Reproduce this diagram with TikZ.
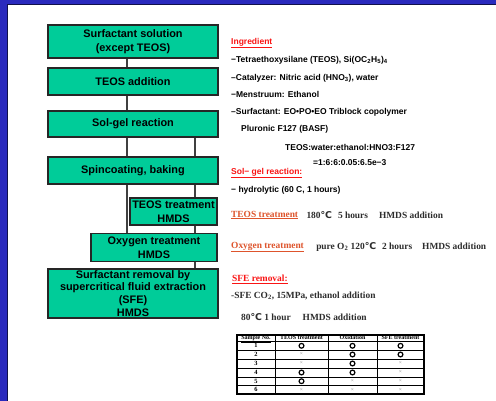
\documentclass[tikz,border=0pt]{standalone}
\usepackage{fontspec}
\setmainfont{Liberation Serif}
\setsansfont{Liberation Sans}
\newfontfamily\symfont{DejaVu Sans}
\usepackage{tikz}
\usetikzlibrary{positioning}
\definecolor{boxgreen}{RGB}{0,204,153}
\definecolor{slideblue}{RGB}{42,42,190}
\definecolor{headred}{RGB}{250,20,20}
\definecolor{labelorange}{RGB}{222,84,44}
\definecolor{valuegray}{RGB}{45,45,45}
\newcommand{\degC}{{\symfont\bfseries ℃}}
\tikzstyle{stepbox}=[draw=black!85,fill=boxgreen,line width=1.2pt,minimum width=170pt,inner sep=1pt,align=center,font=\sffamily\bfseries\fontsize{10.9}{13.5}\selectfont]
\tikzstyle{link}=[draw=black!75,line width=1.3pt]
\tikzstyle{gothic}=[anchor=west,inner sep=0pt,font=\sffamily\bfseries\fontsize{8.5}{9}\selectfont]
\tikzstyle{serifnote}=[anchor=west,inner sep=0pt,text=valuegray,font=\rmfamily\bfseries\fontsize{9.4}{11}\selectfont]
\tikzstyle{cell}=[inner sep=0pt,font=\rmfamily\bfseries\fontsize{6.4}{6.4}\selectfont]
\tikzstyle{headcell}=[cell,font=\rmfamily\bfseries\fontsize{6}{6}\selectfont]
\tikzstyle{yes}=[draw,circle,line width=1.2pt,minimum size=4.8pt,inner sep=0pt]
\tikzstyle{no}=[cell,text=black!45,font=\rmfamily\fontsize{5.5}{5.5}\selectfont]

\begin{document}
\begin{tikzpicture}[x=1pt,y=-1pt]
\useasboundingbox (0,0) rectangle (496,401);
% slide frame
\fill[slideblue] (0,0) rectangle (496,401);
\fill[white] (7,4) rectangle (496,401);
\draw[black!60!slideblue,line width=0.8pt] (7,401) -- (7,4) -- (496,4);

% columns of the connectors
\coordinate (left) at (127,0);
\coordinate (right) at (195,0);

% process steps
\node[stepbox,minimum height=33pt] (s1) at (133,41.5) {Surfactant solution\\(except TEOS)};
\node[stepbox,minimum height=27pt] (s2) at (133,81.5) {TEOS addition};
\node[stepbox,minimum height=26pt] (s3) at (133,124) {Sol-gel reaction};
\node[stepbox,minimum height=27pt] (s4) at (133,170.5) {Spincoating, baking};
\node[stepbox,minimum width=87pt,minimum height=27pt,inner sep=0pt] (s5) at (173.5,211.5) {TEOS treatment\\HMDS};
\node[stepbox,minimum width=126pt,minimum height=28pt] (s6) at (154,247.5) {Oxygen treatment\\HMDS};
\node[stepbox,minimum height=49pt,inner sep=0pt,font=\sffamily\bfseries\fontsize{10.9}{12.8}\selectfont] (s7) at (133,293.5) {Surfactant removal by\\supercritical fluid extraction\\(SFE)\\HMDS};

\draw[link] (s1.south -| left) -- (s2.north -| left);
\draw[link] (s2.south -| left) -- (s3.north -| left);
\draw[link] (s3.south -| left) -- (s4.north -| left);
\draw[link] (s4.south -| left) -- (s6.north -| left);
\draw[link] (s3.south -| right) -- (s4.north -| right);
\draw[link] (s4.south -| right) -- (s5.north -| right);
\draw[link] (s5.south -| right) -- (s6.north -| right);
\draw[link] (s6.south -| right) -- (s7.north -| right);

% ingredients
\node[gothic,text=headred] (ingr) at (231,43) {\underline{Ingredient}};
\node[gothic] (teos) at (231,60) {−Tetraethoxysilane (TEOS), Si(OC\textsubscript{2}H\textsubscript{5})\textsubscript{4}};
\node[gothic] (cat) at (231,78) {–Catalyzer: Nitric acid (HNO\textsubscript{3}), water};
\node[gothic] (men) at (231,94) {−Menstruum: Ethanol};
\node[gothic] (surf) at (231,112) {–Surfactant: EO•PO•EO Triblock copolymer};
\node[gothic] (plu) at (241,129) {Pluronic F127 (BASF)};
\node[gothic] (ratio) at (285,147) {TEOS:water:ethanol:HNO3:F127};
\node[gothic] (val) at (313,163) {=1:6:6:0.05:6.5e−3};

% reaction conditions
\node[gothic,text=headred] (sol) at (231,173) {\underline{Sol− gel reaction:}};
\node[gothic] (hyd) at (231,190) {− hydrolytic (60 C, 1 hours)};
\node[serifnote,text=labelorange] (teoslbl) at (231,215) {\underline{TEOS treatment}};
\node[serifnote,right=8pt of teoslbl] (teosval) {180\degC\hspace{6pt}5 hours\hspace{11pt}HMDS addition};
\node[serifnote,text=labelorange] (oxylbl) at (231,247) {\underline{Oxygen treatment}};
\node[serifnote,right=12pt of oxylbl] (oxyval) {pure O\textsubscript{2} 120\degC\hspace{6pt}2 hours\hspace{10pt}HMDS addition};
\node[serifnote,text=headred] (sfelbl) at (232,279) {\underline{SFE removal:}};
\node[serifnote] (sfe1) at (231,296) {-SFE CO\textsubscript{2}, 15MPa, ethanol addition};
\node[serifnote] (sfe2) at (241,317) {80\degC\ 1 hour\hspace{12pt}HMDS addition};

% table of samples
\foreach \y in {341.5,350,359,368,377,385.5}
  \draw[line width=0.7pt] (237,\y) -- (424,\y);
\foreach \x in {275,328,377}
  \draw[line width=0.7pt] (\x,335) -- (\x,394);
\draw[line width=1.3pt] (237,335) rectangle (424,394);
\node[headcell] (hs) at (256,338.7) {\underline{Sample No.}};
\node[headcell] (ht) at (301.5,338.7) {\underline{TEOS treatment}};
\node[headcell] (ho) at (352.5,338.7) {\underline{Oxidation}};
\node[headcell] (he) at (400.5,338.7) {\underline{SFE treatment}};
\node[cell] (n1) at (256,345.8) {1}; \node[yes] (t1) at (301.5,345.8) {}; \node[yes] (o1) at (352.5,345.8) {}; \node[yes] (e1) at (400.5,345.8) {};
\node[cell] (n2) at (256,354.5) {2}; \node[no] (t2) at (301.5,354.5) {×}; \node[yes] (o2) at (352.5,354.5) {}; \node[yes] (e2) at (400.5,354.5) {};
\node[cell] (n3) at (256,363.5) {3}; \node[no] (t3) at (301.5,363.5) {×}; \node[yes] (o3) at (352.5,363.5) {}; \node[no] (e3) at (400.5,363.5) {×};
\node[cell] (n4) at (256,372.5) {4}; \node[yes] (t4) at (301.5,372.5) {}; \node[yes] (o4) at (352.5,372.5) {}; \node[no] (e4) at (400.5,372.5) {×};
\node[cell] (n5) at (256,381.2) {5}; \node[yes] (t5) at (301.5,381.2) {}; \node[no] (o5) at (352.5,381.2) {×}; \node[no] (e5) at (400.5,381.2) {×};
\node[cell] (n6) at (256,389.8) {6}; \node[no] (t6) at (301.5,389.8) {×}; \node[no] (o6) at (352.5,389.8) {×}; \node[no] (e6) at (400.5,389.8) {×};
\end{tikzpicture}
\end{document}
